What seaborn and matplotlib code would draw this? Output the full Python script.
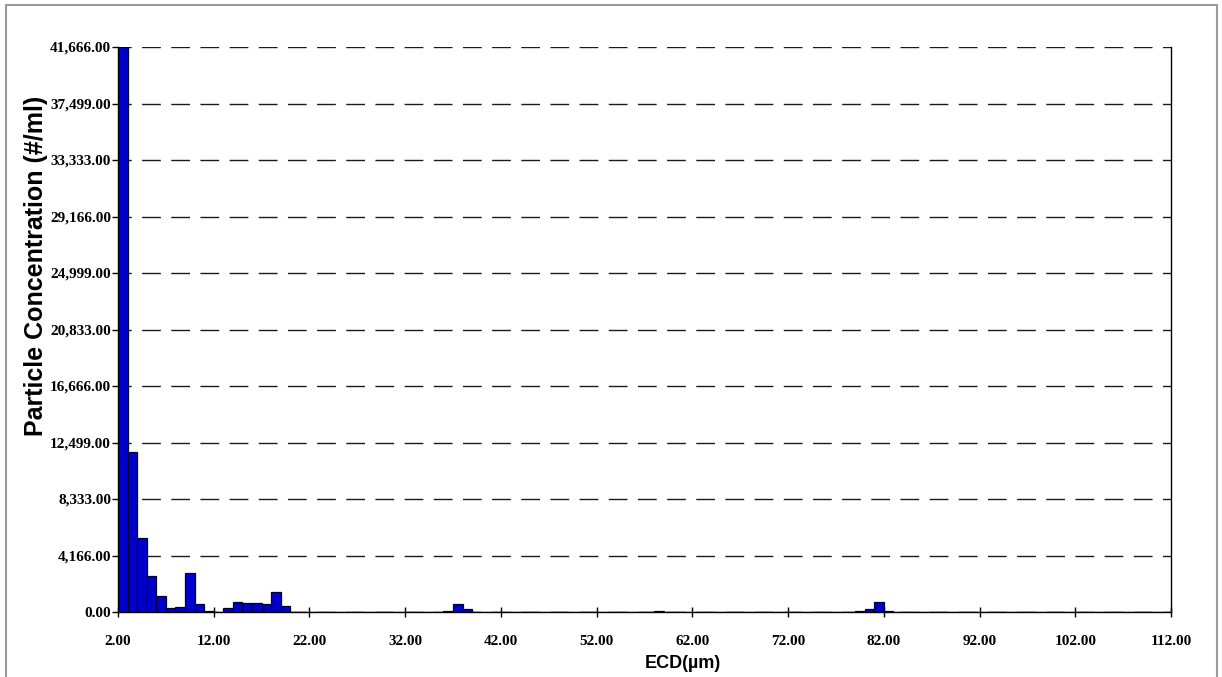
import numpy as np
import pandas as pd
import matplotlib
matplotlib.use("Agg")
import matplotlib.pyplot as plt
import seaborn as sns
from matplotlib.patches import Rectangle

# Particle size bins (lower edge, µm) and measured concentrations (#/ml)
ecd_bins = list(range(2, 112))
concentration = [
    41666, 11800, 5480, 2650, 1200, 295, 370, 2850, 560, 100,   # 2-11
    0, 300, 760, 660, 660, 565, 1480, 450, 30, 30,              # 12-21
    20, 20, 20, 20, 0, 20, 20, 20, 20, 20,                      # 22-31
    20, 20, 20, 0, 40, 580, 200, 30, 30, 30,                    # 32-41
    20, 20, 20, 0, 0, 0, 0, 0, 0, 0,                            # 42-51
    0, 0, 0, 0, 0, 0, 40, 0, 0, 0,                              # 52-61
    0, 0, 0, 0, 0, 0, 0, 0, 0, 0,                               # 62-71
    0, 0, 0, 0, 0, 0, 0, 60, 210, 710,                          # 72-81
    40, 30, 0, 0, 0, 0, 0, 0, 0, 0,                             # 82-91
    0, 30, 30, 30, 0, 30, 30, 0, 0, 0,                          # 92-101
    0, 0, 0, 0, 0, 0, 0, 0, 30, 0,                              # 102-111
]

x_ticks = [2, 12, 22, 32, 42, 52, 62, 72, 82, 92, 102, 112]
y_ticks = [0, 4166, 8333, 12499, 16666, 20833, 24999, 29166, 33333, 37499, 41666]

df = pd.DataFrame({"ecd": [b + 0.5 for b in ecd_bins], "conc": concentration})

sns.set_theme(style="white")
plt.rcParams["lines.scale_dashes"] = False

fig = plt.figure(figsize=(12.22, 6.77), dpi=100)
ax = fig.add_axes([118 / 1222, 1 - 612 / 677, (1171 - 118) / 1222, (612 - 47) / 677])

sns.histplot(
    data=df, x="ecd", weights="conc",
    binwidth=1, binrange=(2, 112),
    color="#0000CC", edgecolor="#000033", linewidth=0.9, alpha=1.0,
    ax=ax,
)

ax.set_xlim(2, 112)
ax.set_ylim(0, 41666)
ax.set_xticks(x_ticks)
ax.set_xticklabels([f"{v:.2f}" for v in x_ticks])
ax.set_yticks(y_ticks)
ax.set_yticklabels([f"{v:,.2f}" for v in y_ticks])

for lab in ax.get_xticklabels() + ax.get_yticklabels():
    lab.set_fontfamily("Liberation Serif")
    lab.set_fontweight("bold")
    lab.set_fontsize(11)
    lab.set_color("black")

ax.tick_params(axis="x", direction="inout", length=7, width=1, color="black", pad=13, bottom=True)
ax.tick_params(axis="y", direction="out", length=4, width=1, color="black", pad=1, left=True)

ax.set_axisbelow(True)
ax.yaxis.grid(True, color="#1a1a1a", linewidth=1.0, linestyle=(4, (13.5, 7.5)))
ax.xaxis.grid(False)

for side in ["left", "bottom", "right"]:
    ax.spines[side].set_visible(True)
    ax.spines[side].set_color("black")
    ax.spines[side].set_linewidth(1.0)
ax.spines["top"].set_visible(False)

ax.set_xlabel("ECD(µm)", family="Liberation Sans", weight="bold", size=13, color="black")
ax.xaxis.set_label_coords((683 - 118) / (1171 - 118), -(655 - 612) / (612 - 47))
ax.set_ylabel("Particle Concentration (#/ml)", family="Liberation Sans", weight="bold",
              size=18, color="black")
ax.yaxis.set_label_coords(-(118 - 36) / (1171 - 118), (612 - 266) / (612 - 47))
ax.yaxis.label.set_verticalalignment("center")

# Outer frame around the chart area
fig.patches.append(Rectangle((6 / 1222, -0.01), (1217 - 6) / 1222, 1.0 - 5 / 677 + 0.01,
                             transform=fig.transFigure, fill=False,
                             edgecolor="#9a9a9a", linewidth=1.5))

fig.savefig("out.png", dpi=100, facecolor="white")
